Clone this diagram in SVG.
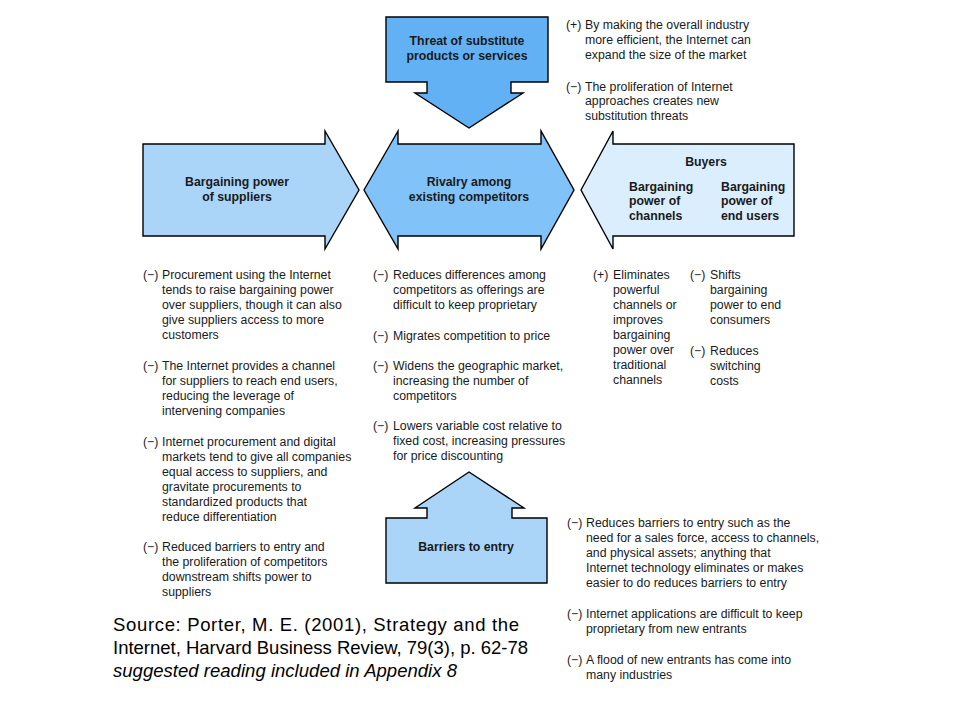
<svg xmlns="http://www.w3.org/2000/svg" width="960" height="720" viewBox="0 0 960 720">
<style>
.shape{stroke:#000;stroke-width:1.4;stroke-linejoin:miter}
.lbl{font-family:"Liberation Sans",Arial,sans-serif;font-size:12.3px;font-weight:bold;fill:#1a1a1a}
.t{font-family:"Liberation Sans",Arial,sans-serif;font-size:12.3px;fill:#1a1a1a}
.src{font-family:"Liberation Sans",Arial,sans-serif;font-size:18.5px;fill:#000}
</style>
<rect width="960" height="720" fill="#fff"/>
<g id="connectors"/>
<g id="node-substitutes">
<polygon class="shape" fill="#63b1f5" points="386,17 548,17 548,82 511,82 511,93 523,93 469,128 415,93 427,93 427,82 386,82"/>
<text class="lbl" text-anchor="middle" x="467" y="45">Threat of substitute</text>
<text class="lbl" text-anchor="middle" x="467" y="60">products or services</text>
</g>
<g id="node-suppliers">
<polygon class="shape" fill="#aad5f9" points="143,144 325,144 325,131 359,190 325,249 325,236 143,236"/>
<text class="lbl" text-anchor="middle" x="237" y="186">Bargaining power</text>
<text class="lbl" text-anchor="middle" x="237" y="201">of suppliers</text>
</g>
<g id="node-rivalry">
<polygon class="shape" fill="#81c2f8" points="364,190 398,131 398,144 541,144 541,131 574,190 541,249 541,236 398,236 398,249"/>
<text class="lbl" text-anchor="middle" x="469" y="186">Rivalry among</text>
<text class="lbl" text-anchor="middle" x="469" y="201">existing competitors</text>
</g>
<g id="node-buyers">
<polygon class="shape" fill="#dbeefd" points="581,190 613,131 613,144 794,144 794,236 613,236 613,249"/>
<text class="lbl" text-anchor="middle" x="706" y="166">Buyers</text>
<text class="lbl" x="629" y="191">Bargaining</text>
<text class="lbl" x="629" y="205">power of</text>
<text class="lbl" x="629" y="220">channels</text>
<text class="lbl" x="721" y="191">Bargaining</text>
<text class="lbl" x="721" y="205">power of</text>
<text class="lbl" x="721" y="220">end users</text>
</g>
<g id="node-barriers">
<polygon class="shape" fill="#aad5f9" points="469,472 524,508 512,508 512,518 547,518 547,583 386,583 386,518 427,518 427,508 415,508"/>
<text class="lbl" text-anchor="middle" x="466" y="551">Barriers to entry</text>
</g>
<g id="notes-substitutes" class="t">
<text x="566" y="29">(+)</text>
<text x="585" y="29">By making the overall industry</text>
<text x="585" y="44">more efficient, the Internet can</text>
<text x="585" y="59">expand the size of the market</text>
<text x="566" y="91">(−)</text>
<text x="585" y="91">The proliferation of Internet</text>
<text x="585" y="105">approaches creates new</text>
<text x="585" y="120">substitution threats</text>
</g>
<g id="notes-suppliers" class="t">
<text x="143" y="279">(−)</text>
<text x="162" y="279">Procurement using the Internet</text>
<text x="162" y="294">tends to raise bargaining power</text>
<text x="162" y="309">over suppliers, though it can also</text>
<text x="162" y="324">give suppliers access to more</text>
<text x="162" y="339">customers</text>
<text x="143" y="370">(−)</text>
<text x="162" y="370">The Internet provides a channel</text>
<text x="162" y="385">for suppliers to reach end users,</text>
<text x="162" y="400">reducing the leverage of</text>
<text x="162" y="415">intervening companies</text>
<text x="143" y="446">(−)</text>
<text x="162" y="446">Internet procurement and digital</text>
<text x="162" y="461">markets tend to give all companies</text>
<text x="162" y="476">equal access to suppliers, and</text>
<text x="162" y="491">gravitate procurements to</text>
<text x="162" y="506">standardized products that</text>
<text x="162" y="521">reduce differentiation</text>
<text x="143" y="551">(−)</text>
<text x="162" y="551">Reduced barriers to entry and</text>
<text x="162" y="566">the proliferation of competitors</text>
<text x="162" y="581">downstream shifts power to</text>
<text x="162" y="596">suppliers</text>
</g>
<g id="notes-rivalry" class="t">
<text x="373" y="279">(−)</text>
<text x="393" y="279">Reduces differences among</text>
<text x="393" y="294">competitors as offerings are</text>
<text x="393" y="309">difficult to keep proprietary</text>
<text x="373" y="340">(−)</text>
<text x="393" y="340">Migrates competition to price</text>
<text x="373" y="370">(−)</text>
<text x="393" y="370">Widens the geographic market,</text>
<text x="393" y="385">increasing the number of</text>
<text x="393" y="400">competitors</text>
<text x="373" y="430">(−)</text>
<text x="393" y="430">Lowers variable cost relative to</text>
<text x="393" y="445">fixed cost, increasing pressures</text>
<text x="393" y="460">for price discounting</text>
</g>
<g id="notes-buyers" class="t">
<text x="593" y="279">(+)</text>
<text x="613" y="279">Eliminates</text>
<text x="613" y="294">powerful</text>
<text x="613" y="309">channels or</text>
<text x="613" y="324">improves</text>
<text x="613" y="339">bargaining</text>
<text x="613" y="354">power over</text>
<text x="613" y="369">traditional</text>
<text x="613" y="384">channels</text>
<text x="690" y="279">(−)</text>
<text x="710" y="279">Shifts</text>
<text x="710" y="294">bargaining</text>
<text x="710" y="309">power to end</text>
<text x="710" y="324">consumers</text>
<text x="690" y="355">(−)</text>
<text x="710" y="355">Reduces</text>
<text x="710" y="370">switching</text>
<text x="710" y="385">costs</text>
</g>
<g id="notes-barriers" class="t">
<text x="567" y="527">(−)</text>
<text x="586" y="527">Reduces barriers to entry such as the</text>
<text x="586" y="542">need for a sales force, access to channels,</text>
<text x="586" y="557">and physical assets; anything that</text>
<text x="586" y="572">Internet technology eliminates or makes</text>
<text x="586" y="587">easier to do reduces barriers to entry</text>
<text x="567" y="618">(−)</text>
<text x="586" y="618">Internet applications are difficult to keep</text>
<text x="586" y="633">proprietary from new entrants</text>
<text x="567" y="664">(−)</text>
<text x="586" y="664">A flood of new entrants has come into</text>
<text x="586" y="679">many industries</text>
</g>
<g id="source" class="src">
<text x="113" y="631" textLength="406" lengthAdjust="spacing">Source: Porter, M. E. (2001), Strategy and the</text>
<text x="113" y="654" textLength="415" lengthAdjust="spacing">Internet, Harvard Business Review, 79(3), p. 62-78</text>
<text x="113" y="677" font-style="italic" textLength="344" lengthAdjust="spacing">suggested reading included in Appendix 8</text>
</g>
</svg>
